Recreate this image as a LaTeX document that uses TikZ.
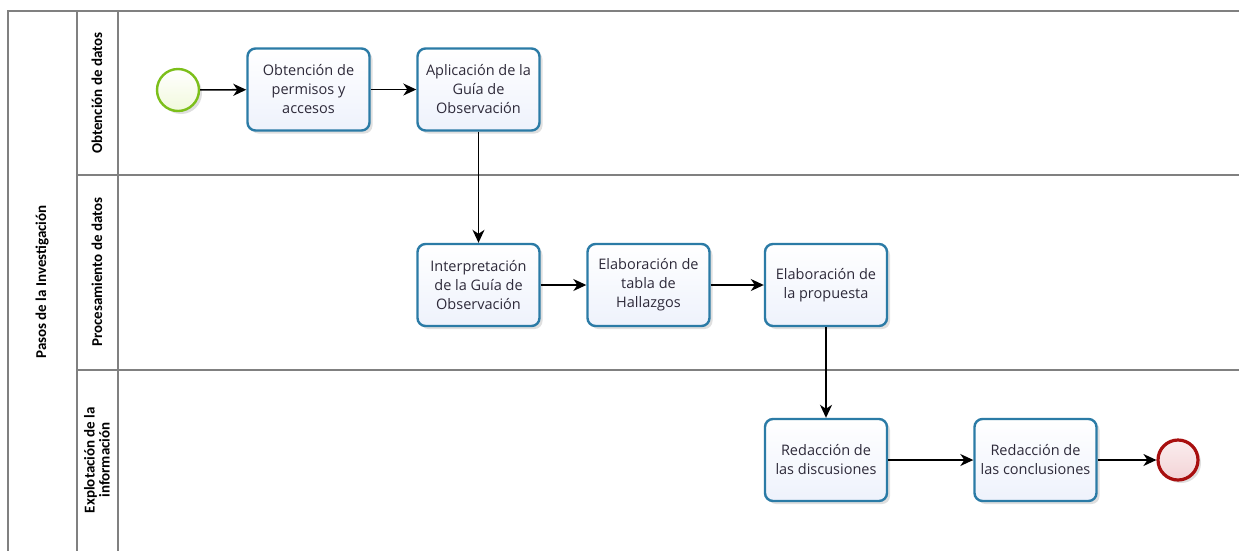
\documentclass[tikz,border=0pt]{standalone}
\usepackage{fontspec}
\setmainfont{Open Sans}
\newfontfamily\hdrfont{Carlito}
\usetikzlibrary{arrows.meta,shadows,positioning}
\definecolor{taskborder}{HTML}{2B7BA6}
\definecolor{taskfill}{HTML}{EEF2FC}
\definecolor{startborder}{HTML}{7CBF1A}
\definecolor{startfill}{HTML}{F1F9DC}
\definecolor{endborder}{HTML}{A80F0F}
\definecolor{endfill}{HTML}{F3D3D6}
\definecolor{poolline}{HTML}{808080}
\definecolor{txt}{HTML}{2E2A3A}
\tikzset{
  task/.style={draw=taskborder, line width=2.4pt, rounded corners=8pt,
    top color=white, bottom color=taskfill, minimum width=122pt, minimum height=82pt,
    align=center, font=\fontsize{14.5}{19}\selectfont, text=txt,
    drop shadow={shadow xshift=3pt, shadow yshift=-3pt, opacity=0.25, fill=gray}},
  startev/.style={circle, draw=startborder, line width=2.4pt, top color=white, bottom color=startfill,
    minimum size=42pt, inner sep=0pt,
    drop shadow={shadow xshift=3pt, shadow yshift=-3pt, opacity=0.25, fill=gray}},
  endev/.style={circle, draw=endborder, line width=3.2pt, top color=white!60!endfill, bottom color=endfill,
    minimum size=40pt, inner sep=0pt,
    drop shadow={shadow xshift=3pt, shadow yshift=-3pt, opacity=0.25, fill=gray}},
  flow/.style={-{Stealth[length=13pt,width=12pt,inset=4pt]}, line width=1.6pt, black},
  lanelbl/.style={rotate=90, font=\hdrfont\bfseries\fontsize{15}{16}\selectfont, align=center, text=black},
  pool/.style={draw=poolline, line width=1.5pt}
}
\begin{document}
\begin{tikzpicture}[x=1pt,y=-1pt]
\useasboundingbox (0,0) rectangle (1239,550);
\fill[white] (0,0) rectangle (1239,550);
% pool frame
\draw[pool] (8,560) -- (8,11) -- (1250,11);
\draw[pool] (77,11) -- (77,560);
\draw[pool] (118,11) -- (118,560);
\draw[pool] (77,175) -- (1250,175);
\draw[pool] (77,370) -- (1250,370);
% labels
\node[lanelbl] (pl) at (42,282) {Pasos de la Investigación};
\node[lanelbl] (l1) at (97,93) {Obtención de datos};
\node[lanelbl] (l2) at (97,272) {Procesamiento de datos};
\node[lanelbl, font=\hdrfont\bfseries\fontsize{15}{15}\selectfont] (l3) at (97,460) {Explotación de la\\información};
% nodes
\node[startev] (s) at (178,90) {};
\node[task] (t1) at (308.5,89.5) {Obtención de\\permisos y\\accesos};
\node[task] (t2) at (478.5,89.5) {Aplicación de la\\Guía de\\Observación};
\node[task] (t3) at (478.5,285) {Interpretación\\de la Guía de\\Observación};
\node[task] (t4) at (648.5,285) {Elaboración de\\tabla de\\Hallazgos};
\node[task] (t5) at (826,285) {Elaboración de\\la propuesta};
\node[task] (t6) at (826,460) {Redacción de\\las discusiones};
\node[task] (t7) at (1035.5,460) {Redacción de\\las conclusiones};
\node[endev] (e) at (1178,460) {};
% flows
\draw[flow] (s) -- (t1);
\draw[flow] (t1) -- (t2);
\draw[flow] (t2) -- (t3);
\draw[flow] (t3) -- (t4);
\draw[flow] (t4) -- (t5);
\draw[flow] (t5) -- (t6);
\draw[flow] (t6) -- (t7);
\draw[flow] (t7) -- (e);
\end{tikzpicture}
\end{document}
